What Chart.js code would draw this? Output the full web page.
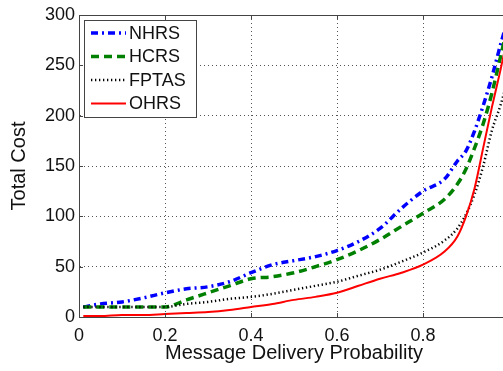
<!DOCTYPE html>
<html>
<head>
<meta charset="utf-8">
<script src="https://cdn.jsdelivr.net/npm/chart.js@4/dist/chart.umd.min.js"></script>
<style>
html,body{margin:0;padding:0;overflow:hidden;background:#fff;width:503px;height:371px;}
#wrap{position:absolute;left:0;top:0;width:540px;height:371px;}
</style>
</head>
<body>
<div id="wrap"><canvas id="c" width="540" height="371"></canvas></div>
<script>
const probs = [0.01, 0.05, 0.1, 0.15, 0.2, 0.25, 0.3, 0.35, 0.4, 0.45, 0.5, 0.55, 0.6, 0.65, 0.7, 0.75, 0.8, 0.85, 0.88, 0.9, 0.92, 0.94, 0.96, 0.98, 1.0];
const nhrs  = [10, 13, 15, 19, 24, 28, 30, 35, 44, 52, 56, 60, 66, 75, 88, 108, 125, 137, 155, 165, 185, 210, 238, 270, 300];
const hcrs  = [10, 10, 10, 10, 10, 17, 24, 31, 38, 40, 44, 50, 57, 66, 77, 90, 103, 117, 132, 147, 168, 192, 222, 258, 295];
const fptas = [10, 10, 10, 10, 10, 13, 15, 18, 20, 23, 27, 31, 35, 41, 47, 55, 64, 76, 88, 102, 122, 150, 185, 210, 240];
const ohrs  = [1, 1, 2, 2, 3, 4, 5, 7, 10, 13, 17, 20, 24, 31, 38, 44, 52, 65, 80, 100, 128, 168, 208, 245, 285];
const seriesNames = ["NHRS", "HCRS", "FPTAS", "OHRS"];
const xTicks = [0, 0.2, 0.4, 0.6, 0.8, 1];
const yTicks = [0, 50, 100, 150, 200, 250, 300];

const pts = arr => arr.map((v, i) => ({x: probs[i], y: v}));
const FONT = "'Liberation Sans', Arial, Helvetica, sans-serif";

const styles = [
  {color: '#0000ff', width: 3.5, dash: [7, 4, 2, 4], order: 3},
  {color: '#008000', width: 3.5, dash: [8, 5], order: 2},
  {color: '#000000', width: 2.5, dash: [1.3, 2.7], order: 1},
  {color: '#ff0000', width: 2, dash: [], order: 0}
];
const values = [nhrs, hcrs, fptas, ohrs];

const datasets = seriesNames.map((n, i) => ({
  label: n,
  data: pts(values[i]),
  borderColor: styles[i].color,
  borderWidth: styles[i].width,
  borderDash: styles[i].dash,
  borderCapStyle: 'butt',
  order: styles[i].order,
  pointRadius: 0,
  fill: false,
  cubicInterpolationMode: 'monotone',
  clip: false
}));

const boxPlugin = {
  id: 'box',
  afterDraw(chart) {
    const {ctx, chartArea: a} = chart;
    ctx.save();
    ctx.strokeStyle = '#444';
    ctx.lineWidth = 1;
    ctx.beginPath();
    ctx.moveTo(a.left, a.top + 0.5); ctx.lineTo(a.right, a.top + 0.5);
    ctx.moveTo(a.right - 0.5, a.top); ctx.lineTo(a.right - 0.5, a.bottom);
    ctx.stroke();
    const xs = chart.scales.x, ys = chart.scales.y;
    ctx.beginPath();
    xTicks.forEach(t => {
      const px = Math.round(xs.getPixelForValue(t)) + 0.5;
      ctx.moveTo(px, a.bottom); ctx.lineTo(px, a.bottom - 4);
      ctx.moveTo(px, a.top); ctx.lineTo(px, a.top + 4);
    });
    yTicks.forEach(t => {
      const py = Math.round(ys.getPixelForValue(t)) + 0.5;
      ctx.moveTo(a.left, py); ctx.lineTo(a.left + 4, py);
    });
    ctx.stroke();

    // legend
    const lx = 84, ly = 20, lw = 112, lh = 97;
    ctx.fillStyle = '#fff';
    ctx.fillRect(lx, ly, lw, lh);
    ctx.strokeStyle = '#444';
    ctx.strokeRect(lx + 0.5, ly + 0.5, lw, lh);
    ctx.font = '18px ' + FONT;
    ctx.textBaseline = 'middle';
    chart.data.datasets.forEach((d, i) => {
      const y = ly + 13 + i * 23.5;
      ctx.save();
      ctx.strokeStyle = d.borderColor;
      ctx.lineWidth = d.borderWidth;
      ctx.setLineDash(d.borderDash);
      ctx.beginPath();
      ctx.moveTo(lx + 7, y); ctx.lineTo(lx + 42, y);
      ctx.stroke();
      ctx.restore();
      ctx.fillStyle = '#111';
      ctx.fillText(d.label, lx + 45, y + 1);
    });
    ctx.restore();
  }
};

new Chart(document.getElementById('c'), {
  type: 'line',
  data: {datasets},
  options: {
    responsive: false,
    animation: false,
    events: [],
    layout: {padding: {left: 0, right: 31, top: 15, bottom: 0}},
    plugins: {legend: {display: false}, tooltip: {enabled: false}},
    scales: {
      x: {
        type: 'linear', min: 0, max: 1,
        afterBuildTicks: s => { s.ticks = xTicks.map(v => ({value: v})); },
        afterFit: s => { s.height = 54; },
        grid: {color: '#555', lineWidth: 1, drawTicks: false},
        border: {display: true, color: '#444', dash: [1, 3], width: 1},
        ticks: {font: {size: 18, family: FONT}, color: '#111', padding: 8, maxRotation: 0,
                callback: v => (v === 0 ? '0' : v === 1 ? '1' : v.toFixed(1))},
        title: {display: true, text: 'Message Delivery Probability', font: {size: 20, family: FONT}, color: '#111', padding: {top: 2, bottom: 6}}
      },
      y: {
        type: 'linear', min: 0, max: 300,
        afterBuildTicks: s => { s.ticks = yTicks.map(v => ({value: v})); },
        afterFit: s => { s.width = 79; },
        grid: {color: '#555', lineWidth: 1, drawTicks: false},
        border: {display: true, color: '#444', dash: [1, 3], width: 1},
        ticks: {font: {size: 18, family: FONT}, color: '#111', padding: 4},
        title: {display: true, text: 'Total Cost', font: {size: 20, family: FONT}, color: '#111', padding: {top: 7, bottom: 0}}
      }
    }
  },
  plugins: [boxPlugin]
});
</script>
</body>
</html>
